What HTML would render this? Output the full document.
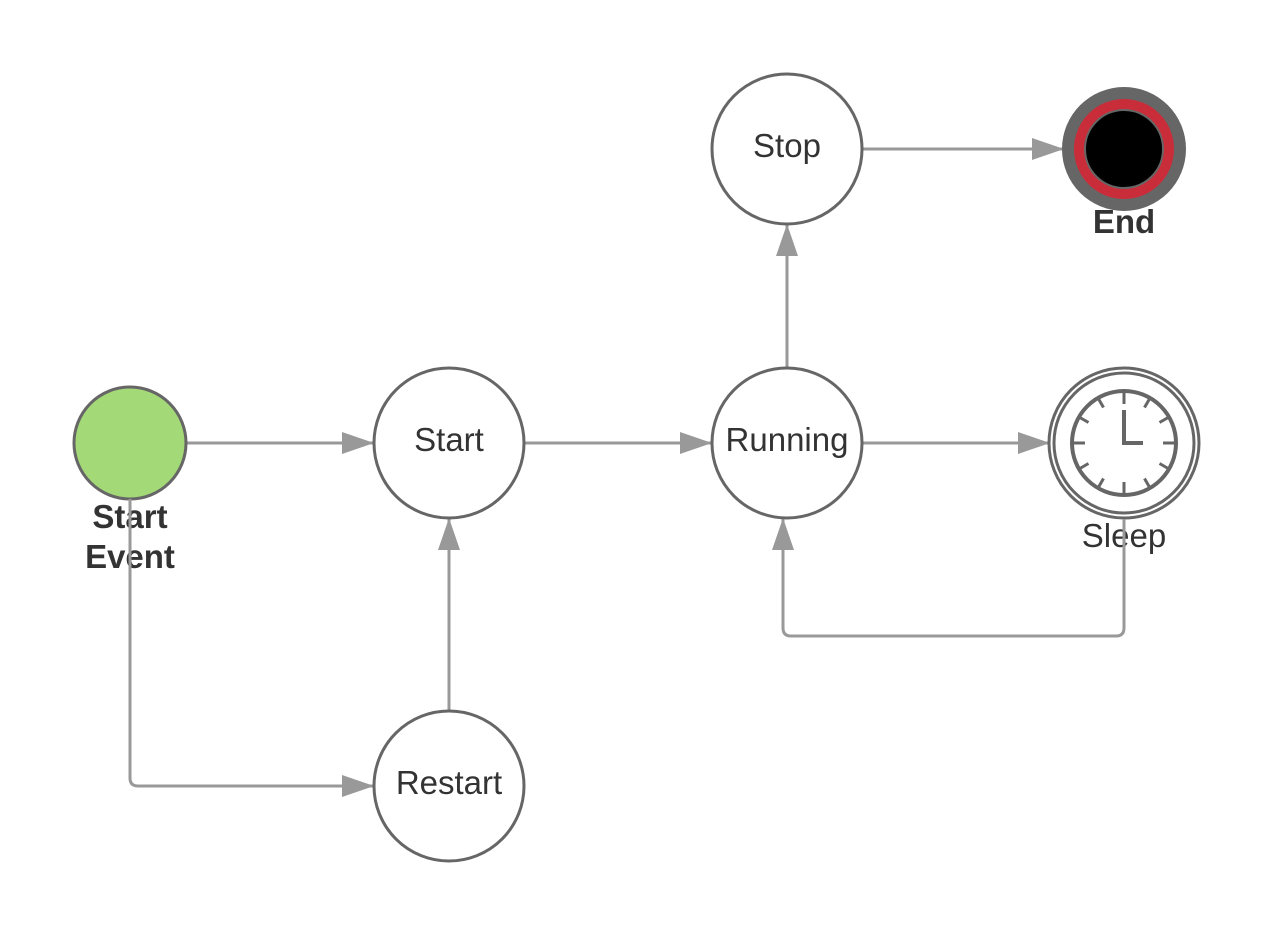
<!DOCTYPE html>
<html><head><meta charset="utf-8"><style>body{margin:0;background:#fff}svg{display:block}</style></head>
<body>
<svg width="1275" height="938" viewBox="0 0 1275 938" xmlns="http://www.w3.org/2000/svg" font-family="Liberation Sans, sans-serif">
<defs>
<marker id="a" markerWidth="32" markerHeight="22" refX="31" refY="11" orient="auto" markerUnits="userSpaceOnUse">
<path d="M0,0 L32,11 L0,22 Z" fill="#999"/></marker>
</defs>
<g stroke="#999" stroke-width="3" fill="none">
<line x1="186" y1="443" x2="373" y2="443" marker-end="url(#a)"/>
<line x1="524" y1="443" x2="711" y2="443" marker-end="url(#a)"/>
<line x1="862" y1="443" x2="1049" y2="443" marker-end="url(#a)"/>
<line x1="787" y1="368" x2="787" y2="225" marker-end="url(#a)"/>
<line x1="862" y1="149" x2="1063" y2="149" marker-end="url(#a)"/>
<line x1="449" y1="711" x2="449" y2="519" marker-end="url(#a)"/>
<path d="M130,499 V778 Q130,786 138,786 H373" marker-end="url(#a)"/>
<path d="M1124,519 V628 Q1124,636 1116,636 H791 Q783,636 783,628 V519" marker-end="url(#a)"/>
</g>
<g stroke="#666" stroke-width="3" fill="#fff">
<circle cx="449" cy="443" r="75"/>
<circle cx="787" cy="443" r="75"/>
<circle cx="787" cy="149" r="75"/>
<circle cx="449" cy="786" r="75"/>
</g>
<circle cx="130" cy="443" r="56" fill="#a3d977" stroke="#666" stroke-width="3"/>
<circle cx="1124" cy="149" r="62" fill="#666"/>
<circle cx="1124" cy="149" r="50" fill="#c92d39"/>
<circle cx="1124" cy="149" r="39" fill="#000" stroke="#666" stroke-width="2"/>
<g stroke="#666" fill="none">
<circle cx="1124" cy="443" r="75" stroke-width="3" fill="#fff"/>
<circle cx="1124" cy="443" r="70" stroke-width="3"/>
<circle cx="1124" cy="443" r="52" stroke-width="4"/>
<g stroke-width="3">
<line x1="1124" y1="391" x2="1124" y2="404"/><line x1="1124" y1="482" x2="1124" y2="495"/>
<line x1="1072" y1="443" x2="1085" y2="443"/><line x1="1163" y1="443" x2="1176" y2="443"/>
<g transform="rotate(30 1124 443)"><line x1="1124" y1="391" x2="1124" y2="402"/><line x1="1124" y1="484" x2="1124" y2="495"/><line x1="1072" y1="443" x2="1083" y2="443"/><line x1="1165" y1="443" x2="1176" y2="443"/></g>
<g transform="rotate(60 1124 443)"><line x1="1124" y1="391" x2="1124" y2="402"/><line x1="1124" y1="484" x2="1124" y2="495"/><line x1="1072" y1="443" x2="1083" y2="443"/><line x1="1165" y1="443" x2="1176" y2="443"/></g>
<path d="M1124,410 V443 H1143" stroke-width="4"/>
</g>
</g>
<g fill="#333" font-size="33" text-anchor="middle">
<text x="449" y="451">Start</text>
<text x="787" y="451">Running</text>
<text x="787" y="157">Stop</text>
<text x="449" y="794">Restart</text>
<text x="1124" y="547">Sleep</text>
<g font-weight="bold"><text x="1124" y="233">End</text>
<text x="130" y="528">Start</text><text x="130" y="568">Event</text></g>
</g>
<line x1="130" y1="499" x2="130" y2="580" stroke="#999" stroke-width="3"/>
<line x1="1124" y1="519" x2="1124" y2="550" stroke="#999" stroke-width="3"/>
</svg>
</body></html>
